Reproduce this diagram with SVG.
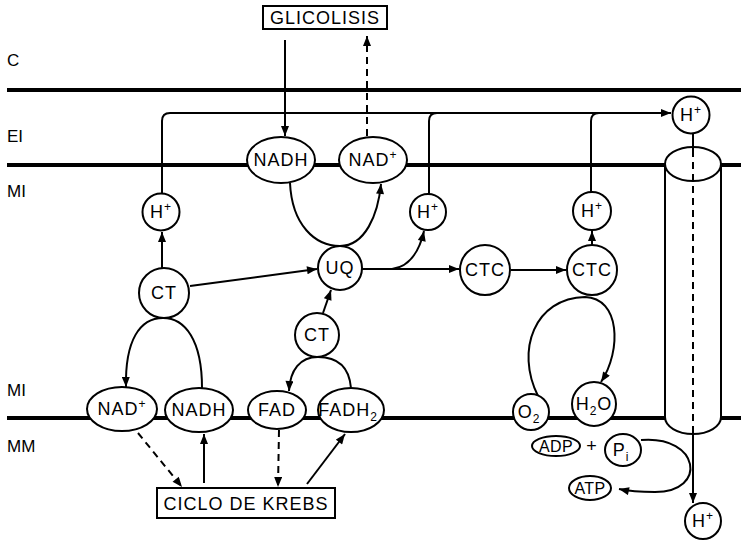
<svg xmlns="http://www.w3.org/2000/svg" width="741" height="540" viewBox="0 0 741 540">
<defs>
<marker id="ah" viewBox="0 0 10 8" refX="10" refY="4" markerWidth="11" markerHeight="8" markerUnits="userSpaceOnUse" orient="auto"><path d="M0,0 L10,4 L0,8 z" fill="#000"/></marker>
</defs>
<style>
.mem{stroke:#000;stroke-width:4;fill:none}
.ln{stroke:#000;stroke-width:2;fill:none}
.ds{stroke:#000;stroke-width:2;fill:none;stroke-dasharray:7,5}
.nd{fill:#fff;stroke:#000;stroke-width:2}
.t{font-family:"Liberation Sans",Arial,sans-serif;font-size:18px;letter-spacing:1px;text-anchor:middle;fill:#000}
.s{font-family:"Liberation Sans",Arial,sans-serif;font-size:16px;letter-spacing:0.3px;text-anchor:middle;fill:#000}
.lb{font-family:"Liberation Sans",Arial,sans-serif;font-size:17px;fill:#000}
.sp{font-size:12px}
</style>
<rect width="741" height="540" fill="#fff"/>
<g id="labels">
<text class="lb" x="7" y="66">C</text>
<text class="lb" x="7" y="142">EI</text>
<text class="lb" x="7" y="197">MI</text>
<text class="lb" x="7" y="396">MI</text>
<text class="lb" x="7" y="452">MM</text>
</g>
<g id="membranes" class="mem">
<line x1="7" y1="90" x2="741" y2="90"/>
<line x1="7" y1="165" x2="666" y2="165"/>
<line x1="720" y1="165" x2="741" y2="165"/>
<line x1="7" y1="418" x2="666" y2="418"/>
<line x1="721" y1="418" x2="741" y2="418"/>
</g>
<g id="cylinder">
<path class="nd" d="M665,164 V417 A28,17 0 0 0 721,417 V164 Z"/>
<ellipse class="nd" cx="693" cy="164" rx="28" ry="17"/>
</g>
<g id="connectors">
<path class="ln" d="M285,40 V136" marker-end="url(#ah)"/>
<path class="ds" d="M367,136 V36" marker-end="url(#ah)"/>
<path class="ln" d="M290,183 C292,225 315,246 340,246 C365,246 378,215 381,184" marker-end="url(#ah)"/>
<path class="ln" d="M162,268 V232" marker-end="url(#ah)"/>
<path class="ln" d="M162,194 V121 Q162,113 170,113 H671" marker-end="url(#ah)"/>
<path class="ln" d="M429,194 V121 Q429,113 437,113"/>
<path class="ln" d="M591,192 V121 Q591,113 599,113"/>
<path class="ln" d="M190,286 L317,269" marker-end="url(#ah)"/>
<path class="ln" d="M362,269 H459" marker-end="url(#ah)"/>
<path class="ln" d="M392,269 C408,267 419,253 424,231" marker-end="url(#ah)"/>
<path class="ln" d="M511,270 H566" marker-end="url(#ah)"/>
<path class="ln" d="M592,245 V231" marker-end="url(#ah)"/>
<path class="ln" d="M323,313 L331,290" marker-end="url(#ah)"/>
<path class="ln" d="M351,388 C349,365 336,357 318,357 C300,357 290,370 289,391" marker-end="url(#ah)"/>
<path class="ln" d="M202,388 C202,340 185,318 163,318 C140,318 125,340 126,387" marker-end="url(#ah)"/>
<path class="ds" d="M138,433 L182,487" marker-end="url(#ah)"/>
<path class="ln" d="M204,483 V434" marker-end="url(#ah)"/>
<path class="ds" d="M279,430 L278,487" marker-end="url(#ah)"/>
<path class="ln" d="M307,484 L345,434" marker-end="url(#ah)"/>
<path class="ln" d="M538,396 C515,350 535,298 585,297 C620,298 622,350 601,382" marker-end="url(#ah)"/>
<path class="ln" d="M693,133 V150"/>
<path class="ds" d="M693,150 V434"/>
<path class="ln" d="M693,434 V503" marker-end="url(#ah)"/>
<path class="ln" d="M641,440 C700,435 708,492 655,492 C640,492 628,491 619,489" marker-end="url(#ah)"/>
</g>
<g id="glicolisis"><rect class="nd" x="263" y="6" width="124" height="23"/><text class="t" x="325" y="24">GLICOLISIS</text></g>
<g id="nadh-top"><ellipse class="nd" cx="281" cy="160" rx="34" ry="23"/><text class="t" x="281" y="166">NADH</text></g>
<g id="nadp-top"><ellipse class="nd" cx="373" cy="160" rx="34" ry="23"/><text class="t" x="373" y="166">NAD<tspan class="sp" dy="-7">+</tspan></text></g>
<g id="h-left"><circle class="nd" cx="161" cy="212" r="18.5"/><text class="t" x="161" y="218">H<tspan class="sp" dy="-7">+</tspan></text></g>
<g id="ct-left"><circle class="nd" cx="164" cy="293" r="25"/><text class="t" x="164" y="299">CT</text></g>
<g id="uq"><circle class="nd" cx="340" cy="268" r="22"/><text class="t" x="340" y="274">UQ</text></g>
<g id="h-mid"><circle class="nd" cx="428" cy="212" r="18"/><text class="t" x="428" y="218">H<tspan class="sp" dy="-7">+</tspan></text></g>
<g id="ctc1"><circle class="nd" cx="485" cy="270" r="25"/><text class="t" x="485" y="276">CTC</text></g>
<g id="ctc2"><circle class="nd" cx="592" cy="270" r="25"/><text class="t" x="592" y="276">CTC</text></g>
<g id="h-right"><circle class="nd" cx="592" cy="211" r="19"/><text class="t" x="592" y="217">H<tspan class="sp" dy="-7">+</tspan></text></g>
<g id="h-top"><circle class="nd" cx="691" cy="115" r="18.5"/><text class="t" x="691" y="121">H<tspan class="sp" dy="-7">+</tspan></text></g>
<g id="ct-lower"><circle class="nd" cx="317" cy="335" r="22"/><text class="t" x="317" y="341">CT</text></g>
<g id="nadp-bot"><ellipse class="nd" cx="122" cy="409" rx="35" ry="22"/><text class="t" x="122" y="415">NAD<tspan class="sp" dy="-7">+</tspan></text></g>
<g id="nadh-bot"><ellipse class="nd" cx="199" cy="410" rx="34" ry="22"/><text class="t" x="199" y="416">NADH</text></g>
<g id="fad"><ellipse class="nd" cx="277" cy="410" rx="29" ry="19"/><text class="t" x="277" y="416">FAD</text></g>
<g id="fadh2"><ellipse class="nd" cx="351" cy="410" rx="33" ry="22"/><text class="t" x="348" y="416">FADH<tspan class="sp" dy="5">2</tspan></text></g>
<g id="krebs"><rect class="nd" x="157" y="488" width="178" height="30"/><text class="t" x="246" y="510">CICLO DE KREBS</text></g>
<g id="o2"><circle class="nd" cx="531" cy="412" r="18"/><text class="t" x="529" y="418">O<tspan class="sp" dy="5">2</tspan></text></g>
<g id="h2o"><circle class="nd" cx="594" cy="404" r="22"/><text class="t" x="594" y="410">H<tspan class="sp" dy="5">2</tspan><tspan dy="-5">O</tspan></text></g>
<g id="adp"><ellipse class="nd" cx="556" cy="446" rx="24" ry="10"/><text class="s" x="556" y="452">ADP</text></g>
<text class="t" x="592" y="452">+</text>
<g id="pi"><ellipse class="nd" cx="623" cy="450" rx="18" ry="16"/><text class="t" x="621" y="456">P<tspan class="sp" dy="5">i</tspan></text></g>
<g id="atp"><ellipse class="nd" cx="590" cy="488" rx="21" ry="12"/><text class="s" x="590" y="494">ATP</text></g>
<g id="h-bot"><circle class="nd" cx="703" cy="521" r="18"/><text class="t" x="703" y="527">H<tspan class="sp" dy="-7">+</tspan></text></g>
</svg>
